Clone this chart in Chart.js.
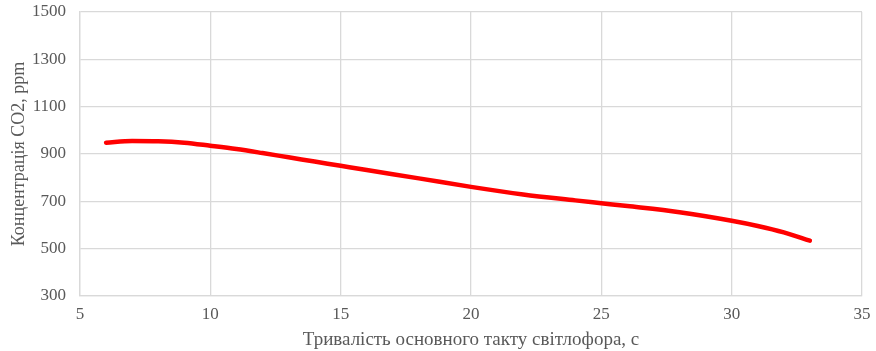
<!DOCTYPE html>
<html>
<head>
<meta charset="utf-8">
<script src="https://cdn.jsdelivr.net/npm/chart.js@4/dist/chart.umd.min.js"></script>
<style>
  html, body { margin: 0; padding: 0; background: #fff; }
  #wrap { width: 876px; height: 351px; }
</style>
</head>
<body>
<div id="wrap"><canvas id="co2Chart"></canvas></div>
<script>
// тривалість такту, с
const durations = [6, 7, 8, 9, 10, 11, 12, 13, 14, 15, 16, 18, 20, 22, 24, 25, 26, 28, 30, 31, 32, 33];
// концентрація CO2, ppm
const co2 = [948, 955, 954, 948, 935, 921, 904, 886, 868, 850, 832, 797, 761, 729, 704, 692, 680, 654, 618, 596, 569, 534];

const xTitle = 'Тривалість основного такту світлофора, с';
const yTitle = 'Концентрація CO2, ppm';

const points = durations.map((d, i) => ({ x: d, y: co2[i] }));

const textColor = '#595959';
const gridColor = '#d9d9d9';
const serif = "'Liberation Serif', 'Times New Roman', serif";

const ctx = document.getElementById('co2Chart').getContext('2d');
const chart = new Chart(ctx, {
    type: 'line',
    data: {
        datasets: [{
            label: 'CO2',
            data: points,
            borderColor: '#ff0000',
            borderWidth: 4.5,
            borderCapStyle: 'round',
            pointRadius: 0,
            cubicInterpolationMode: 'monotone',
            fill: false
        }]
    },
    options: {
        responsive: true,
        maintainAspectRatio: false,
        animation: false,
        layout: { padding: { top: 12, right: 14, left: 8, bottom: 0 } },
        plugins: {
            legend: { display: false },
            tooltip: { enabled: false }
        },
        scales: {
            x: {
                type: 'linear',
                min: 5,
                max: 35,
                afterFit: s => { s.height = 55; s.paddingRight = 0; s.paddingLeft = 0; },
                ticks: { stepSize: 5, color: textColor, font: { family: serif, size: 17 }, padding: 8,
                    callback: v => String(v) },
                grid: { color: gridColor, lineWidth: 1.3, drawTicks: false },
                border: { color: gridColor, width: 1.3 },
                title: {
                    display: true,
                    text: xTitle,
                    color: textColor,
                    font: { family: serif, size: 19 },
                    padding: { top: 4, bottom: 0 }
                }
            },
            y: {
                min: 300,
                max: 1500,
                afterFit: s => { s.width = 72; s.paddingTop = 0; s.paddingBottom = 0; },
                ticks: { stepSize: 200, color: textColor, font: { family: serif, size: 17 }, padding: 14,
                    callback: v => String(v) },
                grid: { color: gridColor, lineWidth: 1.3, drawTicks: false },
                border: { color: gridColor, width: 1.3 },
                title: {
                    display: true,
                    text: yTitle,
                    color: textColor,
                    font: { family: serif, size: 18 },
                    padding: { top: 0, bottom: 4 }
                }
            }
        }
    }
});
</script>
</body>
</html>
